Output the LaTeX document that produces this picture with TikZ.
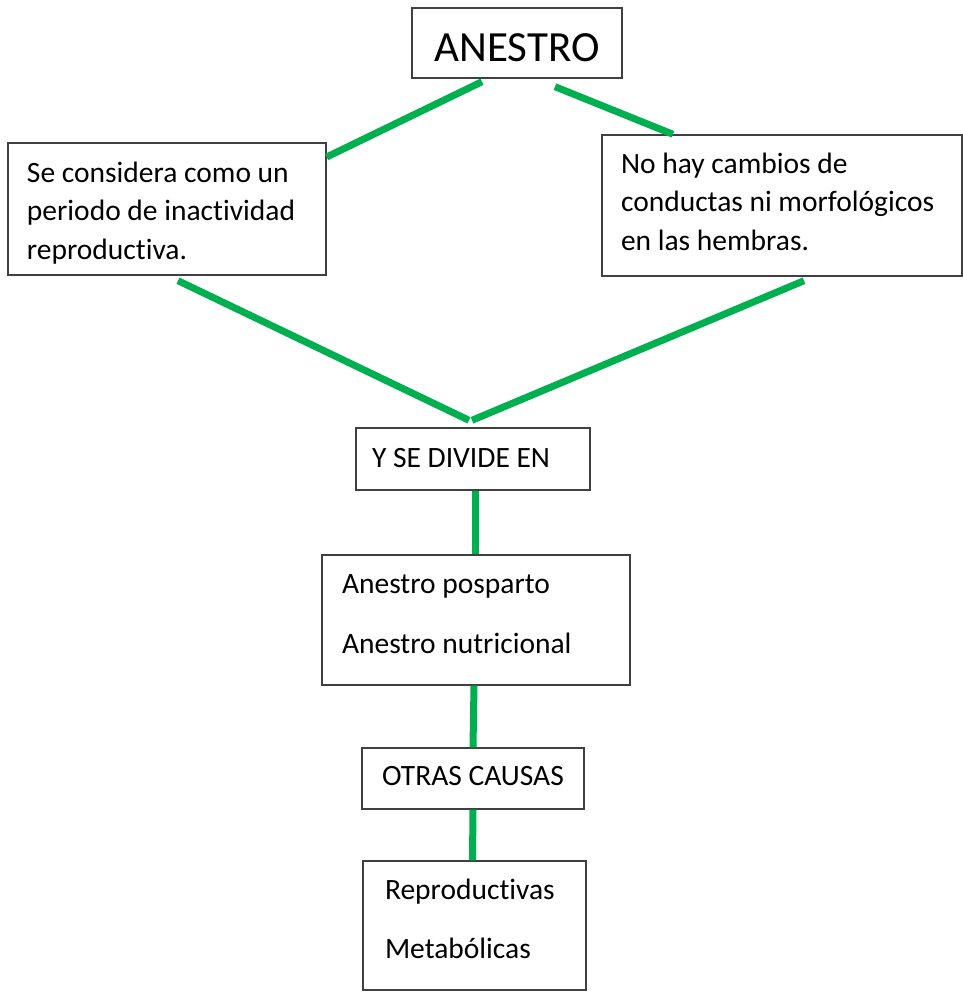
\documentclass[tikz,border=0pt]{standalone}
\usepackage{fontspec}
\setmainfont{Carlito}[Ligatures=NoCommon]
\definecolor{verde}{HTML}{00B050}
\definecolor{borde}{HTML}{404040}
\begin{document}
\begin{tikzpicture}[
    x=1pt, y=-1pt,
    box/.style={rectangle, draw=borde, line width=1.4pt, align=flush left, inner sep=0pt, font=\fontsize{29.5}{38.5}\selectfont},
    conn/.style={draw=verde, line width=7pt}
]
\useasboundingbox (0,0) rectangle (963,993);

% Titulo
\node[box, align=center, minimum width=210pt, minimum height=70pt, text height=36pt, text depth=0pt, font=\fontsize{43}{50}\selectfont] (anestro) at (517,43) {ANESTRO};

% Definiciones
\node[box, text width=280pt, inner xsep=19pt, minimum height=132pt, text height=30pt, text depth=84pt] (consid) at (167,209) {Se considera como un\\periodo de inactividad\\reproductiva.};
\node[box, text width=322pt, inner xsep=19pt, minimum height=141pt, text height=18pt, text depth=83pt] (hay) at (782,205.5) {No hay cambios de\\conductas ni morfológicos\\en las hembras.};

% Division
\node[box, text width=202pt, inner xsep=16pt, minimum height=62pt, text height=20pt, text depth=4pt] (divide) at (473,459) {Y SE DIVIDE EN};
\node[box, text width=268pt, inner xsep=20pt, minimum height=130pt, text height=20pt, text depth=74pt, font=\fontsize{29.5}{60}\selectfont] (tipos) at (476,620) {Anestro posparto\\Anestro nutricional};

% Otras causas
\node[box, align=center, minimum width=222pt, minimum height=61pt, text height=20pt, text depth=7pt] (otras) at (473,778.5) {OTRAS CAUSAS};
\node[box, text width=179pt, inner xsep=22pt, minimum height=129pt, text height=20pt, text depth=73pt, font=\fontsize{29.5}{59}\selectfont] (causas) at (474.5,925.5) {Reproductivas\\Metabólicas};

% Conectores
\draw[conn] ([xshift=-35pt, yshift=-3pt]anestro.south) -- ([yshift=52pt]consid.east);
\draw[conn] ([xshift=38pt, yshift=-8pt]anestro.south) -- ([xshift=-109pt]hay.north);
\draw[conn] ([xshift=11pt, yshift=-5pt]consid.south) -- ([xshift=-4pt, yshift=7pt]divide.north);
\draw[conn] ([xshift=22pt, yshift=-4pt]hay.south) -- ([xshift=-1pt, yshift=7pt]divide.north);
\draw[conn] ([xshift=2pt]divide.south) -- ([xshift=-1pt]tipos.north);
\draw[conn] ([xshift=-2pt]tipos.south) -- (otras.north);
\draw[conn] (otras.south) -- ([xshift=-2pt]causas.north);

\end{tikzpicture}
\end{document}
